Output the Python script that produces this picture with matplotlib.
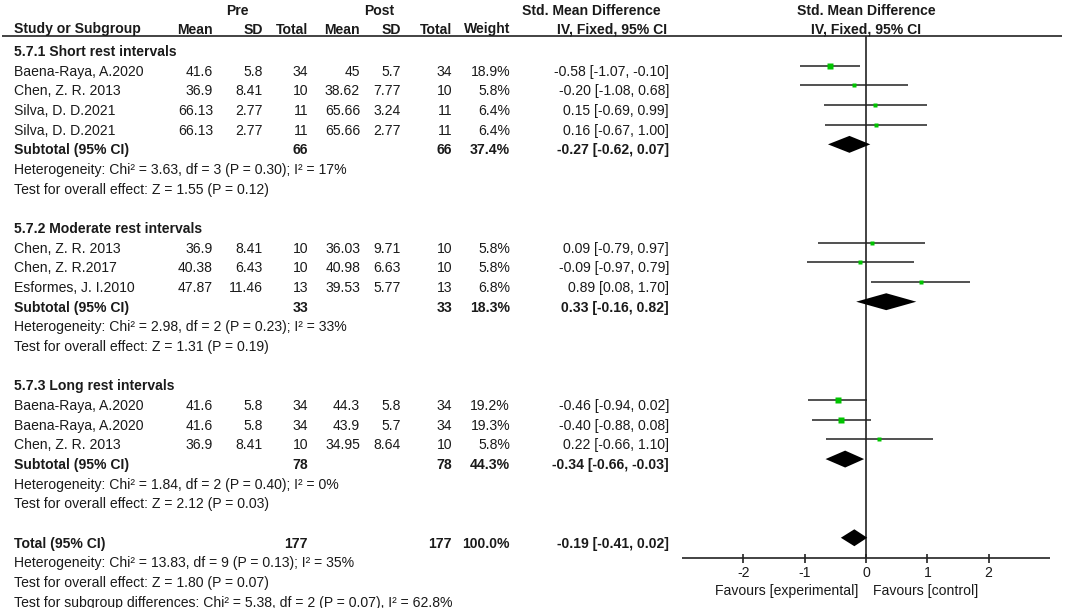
import matplotlib
matplotlib.use("Agg")
import matplotlib.pyplot as plt
import numpy as np

# ---------------- data ----------------
group_titles = ["5.7.1 Short rest intervals", "5.7.2 Moderate rest intervals", "5.7.3 Long rest intervals"]
study_names = [
    ["Baena-Raya, A.2020", "Chen, Z. R. 2013", "Silva, D. D.2021", "Silva, D. D.2021"],
    ["Chen, Z. R. 2013", "Chen, Z. R.2017", "Esformes, J. I.2010"],
    ["Baena-Raya, A.2020", "Baena-Raya, A.2020", "Chen, Z. R. 2013"],
]
pre_mean = [[41.6, 36.9, 66.13, 66.13], [36.9, 40.38, 47.87], [41.6, 41.6, 36.9]]
pre_sd = [[5.8, 8.41, 2.77, 2.77], [8.41, 6.43, 11.46], [5.8, 5.8, 8.41]]
pre_n = [[34, 10, 11, 11], [10, 10, 13], [34, 34, 10]]
post_mean = [[45, 38.62, 65.66, 65.66], [36.03, 40.98, 39.53], [44.3, 43.9, 34.95]]
post_sd = [[5.7, 7.77, 3.24, 2.77], [9.71, 6.63, 5.77], [5.8, 5.7, 8.64]]
post_n = [[34, 10, 11, 11], [10, 10, 13], [34, 34, 10]]
weights = [[18.9, 5.8, 6.4, 6.4], [5.8, 5.8, 6.8], [19.2, 19.3, 5.8]]
smd = [[-0.58, -0.20, 0.15, 0.16], [0.09, -0.09, 0.89], [-0.46, -0.40, 0.22]]
ci_lo = [[-1.07, -1.08, -0.69, -0.67], [-0.79, -0.97, 0.08], [-0.94, -0.88, -0.66]]
ci_hi = [[-0.10, 0.68, 0.99, 1.00], [0.97, 0.79, 1.70], [0.02, 0.08, 1.10]]

sub_pre_n = [66, 33, 78]
sub_post_n = [66, 33, 78]
sub_weight = [37.4, 18.3, 44.3]
sub_smd = [-0.27, 0.33, -0.34]
sub_lo = [-0.62, -0.16, -0.66]
sub_hi = [0.07, 0.82, -0.03]
sub_het = [
    "Heterogeneity: Chi\u00b2 = 3.63, df = 3 (P = 0.30); I\u00b2 = 17%",
    "Heterogeneity: Chi\u00b2 = 2.98, df = 2 (P = 0.23); I\u00b2 = 33%",
    "Heterogeneity: Chi\u00b2 = 1.84, df = 2 (P = 0.40); I\u00b2 = 0%",
]
sub_test = [
    "Test for overall effect: Z = 1.55 (P = 0.12)",
    "Test for overall effect: Z = 1.31 (P = 0.19)",
    "Test for overall effect: Z = 2.12 (P = 0.03)",
]

tot_pre_n, tot_post_n, tot_weight = 177, 177, 100.0
tot_smd, tot_lo, tot_hi = -0.19, -0.41, 0.02
tot_lines = [
    "Heterogeneity: Chi\u00b2 = 13.83, df = 9 (P = 0.13); I\u00b2 = 35%",
    "Test for overall effect: Z = 1.80 (P = 0.07)",
    "Test for subgroup differences: Chi\u00b2 = 5.38, df = 2 (P = 0.07), I\u00b2 = 62.8%",
]
tick_values = [-2, -1, 0, 1, 2]
favours_left = "Favours [experimental]"
favours_right = "Favours [control]"

# ---------------- layout ----------------
W, H = 1065, 608
ROW0 = 46.0      # pixel y of first row's marker line
STEP = 19.67     # pixel per row
def prow(py):
    return (py - ROW0) / STEP

FS = 10.1
FONT = "Liberation Sans"
TXT = "#1a1a1a"
LINE = "#222222"
GREEN = "#00c400"
plt.rcParams["font.family"] = [FONT, "DejaVu Sans"]

fig = plt.figure(figsize=(W / 100, H / 100), dpi=100)
fig.patch.set_facecolor("white")
ylims = (prow(H), prow(0))

tax = fig.add_axes([0, 0, 1, 1])
tax.set_xlim(0, W)
tax.set_ylim(*ylims)
tax.axis("off")

fx0, fx1 = 682, 1050
fax = fig.add_axes([fx0 / W, 0, (fx1 - fx0) / W, 1])
fax.set_xlim(-3, 3)
fax.set_ylim(*ylims)
fax.axis("off")
fax.patch.set_alpha(0)

# column right edges (pixels)
X_NAME = 14
X_PM, X_PSD, X_PN = 213, 263, 308
X_QM, X_QSD, X_QN = 360, 401, 452
X_W = 510
X_EFF = 669
TOFF = 0.5  # baseline offset of text below marker line (rows)

def t(x, row, s, ha="right", bold=False, **kw):
    tax.text(x, row + TOFF, s, ha=ha, va="baseline", fontsize=FS, color=TXT,
             fontweight="bold" if bold else "normal", **kw)

def eff(e, l, h):
    return f"{e:.2f} [{l:.2f}, {h:.2f}]"

# headers
hb1 = prow(15)
hb2 = prow(33.5)
for x, s in [(237, "Pre"), (379, "Post")]:
    tax.text(x, hb1, s, ha="center", va="baseline", fontsize=FS, color=TXT, fontweight="bold")
tax.text(661, hb1, "Std. Mean Difference", ha="right", va="baseline", fontsize=FS, color=TXT, fontweight="bold")
tax.text(866, hb1, "Std. Mean Difference", ha="center", va="baseline", fontsize=FS, color=TXT, fontweight="bold")
tax.text(X_NAME, hb2, "Study or Subgroup", ha="left", va="baseline", fontsize=FS, color=TXT, fontweight="bold")
for x, s in [(X_PM, "Mean"), (X_PSD, "SD"), (X_PN, "Total"), (X_QM, "Mean"),
             (X_QSD, "SD"), (X_QN, "Total"), (X_W, "Weight"), (667, "IV, Fixed, 95% CI")]:
    tax.text(x, hb2, s, ha="right", va="baseline", fontsize=FS, color=TXT, fontweight="bold")
tax.text(866, hb2, "IV, Fixed, 95% CI", ha="center", va="baseline", fontsize=FS, color=TXT, fontweight="bold")
tax.hlines(prow(36), 2, 1062, color=LINE, lw=1.2)

# body
row = 0
for g in range(len(group_titles)):
    t(X_NAME, row, group_titles[g], ha="left", bold=True)
    row += 1
    for i in range(len(study_names[g])):
        t(X_NAME, row, study_names[g][i], ha="left")
        t(X_PM, row, f"{pre_mean[g][i]:g}")
        t(X_PSD, row, f"{pre_sd[g][i]:g}")
        t(X_PN, row, f"{pre_n[g][i]}")
        t(X_QM, row, f"{post_mean[g][i]:g}")
        t(X_QSD, row, f"{post_sd[g][i]:g}")
        t(X_QN, row, f"{post_n[g][i]}")
        t(X_W, row, f"{weights[g][i]:.1f}%")
        t(X_EFF, row, eff(smd[g][i], ci_lo[g][i], ci_hi[g][i]))
        fax.hlines(row, ci_lo[g][i], ci_hi[g][i], color=LINE, lw=1.1, zorder=2)
        side_px = 1.31 * np.sqrt(weights[g][i])
        fax.plot(smd[g][i], row, marker="s", ms=side_px * 0.72, color=GREEN,
                 mec="none", zorder=3)
        row += 1
    t(X_NAME, row, "Subtotal (95% CI)", ha="left", bold=True)
    t(X_PN, row, f"{sub_pre_n[g]}", bold=True)
    t(X_QN, row, f"{sub_post_n[g]}", bold=True)
    t(X_W, row, f"{sub_weight[g]:.1f}%", bold=True)
    t(X_EFF, row, eff(sub_smd[g], sub_lo[g], sub_hi[g]), bold=True)
    hh = 0.43
    fax.fill([sub_lo[g], sub_smd[g], sub_hi[g], sub_smd[g]],
             [row, row - hh, row, row + hh], color="black", lw=0, zorder=3)
    row += 1
    t(X_NAME, row, sub_het[g], ha="left")
    row += 1
    t(X_NAME, row, sub_test[g], ha="left")
    row += 2

# total
t(X_NAME, row, "Total (95% CI)", ha="left", bold=True)
t(X_PN, row, f"{tot_pre_n}", bold=True)
t(X_QN, row, f"{tot_post_n}", bold=True)
t(X_W, row, f"{tot_weight:.1f}%", bold=True)
t(X_EFF, row, eff(tot_smd, tot_lo, tot_hi), bold=True)
hh = 0.43
fax.fill([tot_lo, tot_smd, tot_hi, tot_smd], [row, row - hh, row, row + hh],
         color="black", lw=0, zorder=3)
row += 1
for s in tot_lines:
    t(X_NAME, row, s, ha="left")
    row += 1

# axis of forest plot
ax_y = prow(558)
fax.vlines(0, prow(36), ax_y, color=LINE, lw=1.2)
fax.hlines(ax_y, -3, 3, color=LINE, lw=1.2)
tick_half = 4.5 / STEP
fax.vlines(tick_values, ax_y - tick_half, ax_y + tick_half, color=LINE, lw=1.2)
for v in tick_values:
    fax.text(v, prow(577), f"{v}", ha="center", va="baseline", fontsize=FS, color=TXT)
tax.text(858, prow(595), favours_left, ha="right", va="baseline", fontsize=FS, color=TXT)
tax.text(873, prow(595), favours_right, ha="left", va="baseline", fontsize=FS, color=TXT)

fig.savefig("out.png", dpi=100, facecolor="white")
